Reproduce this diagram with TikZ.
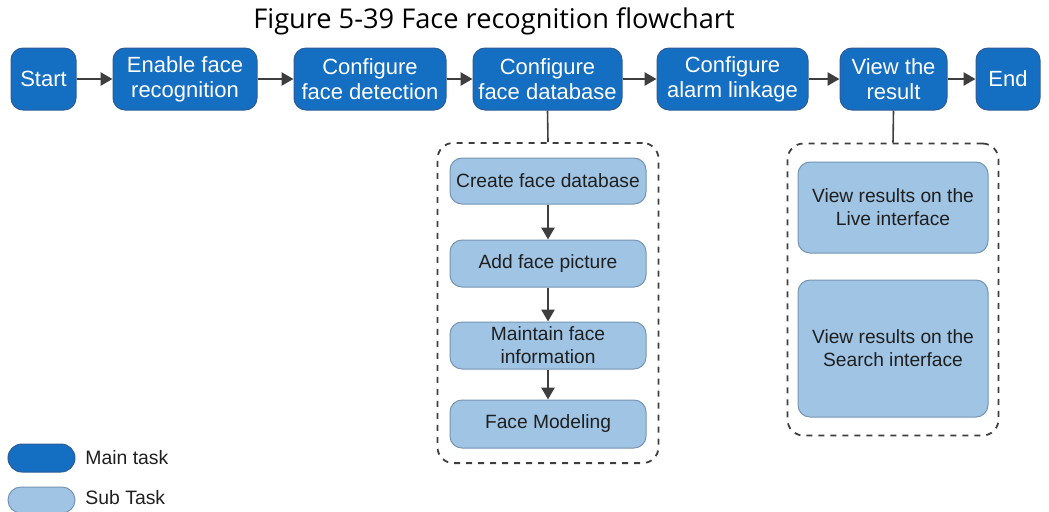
\documentclass[tikz,border=0pt]{standalone}
\usepackage{fontspec}
\setmainfont{Liberation Sans}
\newfontfamily\titlefont{Open Sans}
\usetikzlibrary{positioning,arrows.meta,fit,backgrounds}
\definecolor{mainblue}{RGB}{20,110,194}
\definecolor{mainedge}{RGB}{46,92,150}
\definecolor{subblue}{RGB}{160,196,228}
\definecolor{subedge}{RGB}{118,148,178}
\definecolor{wiregray}{RGB}{62,62,62}
\tikzset{
  mbox/.style = {draw=mainedge, fill=mainblue, text=white, rounded corners=6pt,
                 align=center, inner sep=1pt, line width=0.5pt,
                 font=\fontsize{11}{12.5}\selectfont},
  sbox/.style = {draw=subedge, fill=subblue, text=black!88, rounded corners=6pt,
                 align=center, inner sep=1pt, line width=0.5pt,
                 font=\fontsize{9.6}{11.5}\selectfont},
  flow/.style = {draw=wiregray, line width=1.4pt, -{Triangle[length=6pt,width=6.5pt]}},
  link/.style = {draw=wiregray, line width=0.8pt},
  grp/.style  = {draw=wiregray, dashed, line width=0.9pt, rounded corners=8pt},
  lgd/.style  = {anchor=west, inner sep=0pt, text=black!88,
                 font=\fontsize{9.7}{11}\selectfont},
}
\begin{document}
\begin{tikzpicture}[x=0.5pt,y=-0.5pt]
  \useasboundingbox (0,0) rectangle (1049,511);
  \node[font=\titlefont\fontsize{13.6}{15}\selectfont] (ttl) at (494,21)
    {Figure 5-39 Face recognition flowchart};
  % main tasks
  \node[mbox, minimum width=32.5pt, minimum height=31pt] (start) at (43.5,79) {Start};
  \node[mbox, minimum width=72pt, minimum height=31pt] (enab) at (185,79) {Enable face\\recognition};
  \node[mbox, minimum width=76pt, minimum height=31pt] (fdet) at (370,79) {Configure\\face detection};
  \node[mbox, minimum width=74.5pt, minimum height=31pt] (fdb) at (547.5,79) {Configure\\face database};
  \node[mbox, minimum width=75.5pt, minimum height=31pt] (alrm) at (732.5,79) {Configure\\alarm linkage};
  \node[mbox, minimum width=53.5pt, minimum height=31pt] (view) at (893.5,79) {View the\\result};
  \node[mbox, minimum width=32pt, minimum height=31pt] (end) at (1008,79) {End};
  \foreach \a/\b in {start/enab, enab/fdet, fdet/fdb, fdb/alrm, alrm/view, view/end}
    \draw[flow] (\a) -- (\b);
  % face database sub tasks
  \node[sbox, minimum width=98pt, minimum height=23pt] (cdb) at (548,181) {Create face database};
  \node[sbox, minimum width=98pt, minimum height=23.5pt] (addp) at (548,263.5) {Add face picture};
  \node[sbox, minimum width=98pt, minimum height=23.5pt] (mnt) at (548,345.5) {Maintain face\\information};
  \node[sbox, minimum width=98pt, minimum height=24pt] (fmod) at (548,424) {Face Modeling};
  \draw[flow] (cdb) -- (addp);
  \draw[flow] (addp) -- (mnt);
  \draw[flow] (mnt) -- (fmod);
  \node[grp, fit=(cdb)(fmod), inner xsep=6pt, inner ysep=7.3pt] (grpdb) {};
  \draw[link] (fdb.south) -- (grpdb.north);
  % view result sub tasks
  \node[sbox, minimum width=95pt, minimum height=45.5pt] (live) at (893,207.5) {View results on the\\Live interface};
  \node[sbox, minimum width=95pt, minimum height=68.5pt] (srch) at (893,348.5) {View results on the\\Search interface};
  \node[grp, fit=(live)(srch), inner xsep=5pt, inner ysep=9pt] (grpvw) {};
  \draw[link] (view.south) -- (grpvw.north);
  % legend
  \node[mbox, minimum width=33.5pt, minimum height=14pt, rounded corners=7pt] (lgmain) at (41.5,458) {};
  \node[lgd] (lgmaint) at (85,458) {Main task};
  \node[sbox, minimum width=33.5pt, minimum height=13pt, rounded corners=6.5pt] (lgsub) at (41.5,500) {};
  \node[lgd] (lgsubt) at (85,498) {Sub Task};
\end{tikzpicture}
\end{document}
